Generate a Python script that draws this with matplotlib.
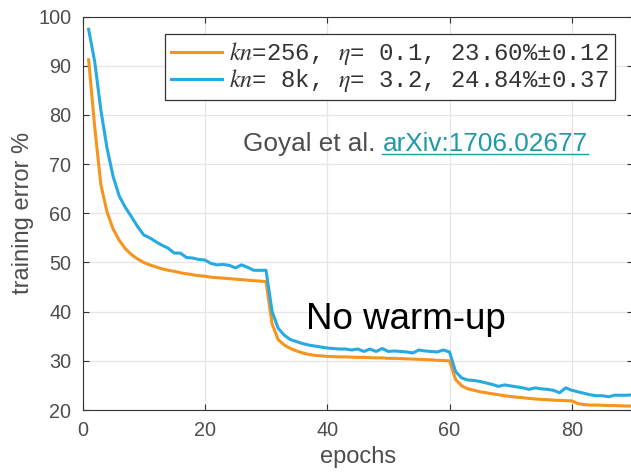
import numpy as np
import matplotlib.pyplot as plt
from matplotlib.lines import Line2D

plt.rcParams['font.family'] = ['Liberation Sans', 'DejaVu Sans']
plt.rcParams['mathtext.fontset'] = 'stix'

# training error per epoch, read per curve
epochs = np.arange(1, 91)
err_256 = [91.2, 77.5, 65.8, 60.3, 56.8, 54.5, 52.8, 51.6, 50.7, 50.0,
           49.5, 49.1, 48.7, 48.4, 48.2, 47.9, 47.7, 47.5, 47.3, 47.2,
           47.0, 46.9, 46.8, 46.7, 46.6, 46.5, 46.4, 46.3, 46.2, 46.1,
           37.5, 34.3, 33.2, 32.5, 32.0, 31.6, 31.3, 31.1, 31.0, 30.9,
           30.85, 30.8, 30.8, 30.75, 30.7, 30.7, 30.65, 30.6, 30.6, 30.5,
           30.5, 30.45, 30.4, 30.35, 30.3, 30.25, 30.2, 30.1, 30.05, 30.0,
           26.2, 24.9, 24.3, 24.0, 23.7, 23.5, 23.3, 23.1, 22.9, 22.75,
           22.6, 22.5, 22.35, 22.25, 22.15, 22.1, 22.0, 21.95, 21.9, 21.85,
           21.3, 21.1, 21.0, 21.0, 20.95, 20.9, 20.9, 20.85, 20.8, 20.8]
err_8k = [97.4, 90.8, 81.0, 73.3, 67.5, 63.5, 61.2, 59.3, 57.3, 55.6,
          55.0, 54.2, 53.5, 52.9, 51.9, 51.9, 51.0, 50.9, 50.6, 50.5,
          49.8, 49.5, 49.6, 49.4, 48.9, 49.5, 49.0, 48.4, 48.4, 48.4,
          40.0, 36.6, 35.2, 34.3, 33.9, 33.5, 33.2, 33.0, 32.8, 32.6,
          32.5, 32.4, 32.4, 32.2, 32.4, 31.9, 32.4, 31.9, 32.5, 31.9,
          32.0, 31.9, 31.8, 31.6, 32.2, 32.0, 31.9, 31.8, 32.2, 31.8,
          27.8, 26.5, 26.1, 26.0, 25.8, 25.5, 25.2, 24.8, 25.1, 24.9,
          24.7, 24.5, 24.2, 24.5, 24.3, 24.2, 24.0, 23.5, 24.5, 24.0,
          23.7, 23.4, 23.1, 22.9, 22.9, 22.7, 23.0, 23.0, 23.0, 23.1]

labels = [r'$kn$=256, $\eta$= 0.1, 23.60%±0.12',
          r'$kn$= 8k, $\eta$= 3.2, 24.84%±0.37']
colors = ['#f7941e', '#27aae1']

fig = plt.figure(figsize=(6.31, 4.76), dpi=100)
ax = fig.add_axes([82.5 / 631, 66 / 476, 550.5 / 631, 393.5 / 476])

ax.plot(epochs, err_256, color=colors[0], lw=2.2, label=labels[0])
ax.plot(epochs, err_8k, color=colors[1], lw=2.2, label=labels[1])

ax.set_xlim(0, 90)
ax.set_ylim(20, 100)
ax.set_xticks([0, 20, 40, 60, 80])
ax.set_yticks(np.arange(20, 101, 10))
ax.grid(True, color='#e6e6e6', lw=0.9)
ax.set_axisbelow(True)
ax.tick_params(direction='in', length=4, width=0.8, top=True, right=True,
               labelsize=14.3, labelcolor='#4d4d4d', color='#333333', pad=8)
for s in ax.spines.values():
    s.set_color('#333333')
    s.set_linewidth(0.8)

ax.set_xlabel('epochs', fontsize=17, color='#4d4d4d', labelpad=4)
ax.set_ylabel('training error %', fontsize=17, color='#4d4d4d', labelpad=3)

leg = ax.legend(loc='upper right', bbox_to_anchor=(0.967, 0.955),
                prop={'family': 'Liberation Mono', 'size': 17.3},
                handlelength=2.1, handletextpad=0.3, borderpad=0.25,
                labelspacing=0.0, fancybox=False, framealpha=1,
                edgecolor='#333333', borderaxespad=0)
leg.get_frame().set_linewidth(0.9)
for t in leg.get_texts():
    t.set_color('#333333')

ax.text(36.5, 36.5, 'No warm-up', fontsize=26.5, color='black', va='baseline')

# citation with an underlined link part
cite = ax.text(26.2, 72.7, 'Goyal et al. ', fontsize=18.8, color='#4d4d4d',
               va='baseline')
fig.canvas.draw()
r = fig.canvas.get_renderer()
bb = cite.get_window_extent(r)
x_link = ax.transData.inverted().transform((bb.x1, 0))[0]
link = ax.text(x_link, 72.7, 'arXiv:1706.02677', fontsize=18.8,
               color='#1f9aa8', va='baseline')
fig.canvas.draw()
lb = link.get_window_extent(r)
y_base = ax.transData.transform((0, 72.7))[1] - 2.8
fig.add_artist(Line2D([lb.x0 / 631, lb.x1 / 631], [y_base / 476, y_base / 476],
                      color='#1f9aa8', lw=1.0))

fig.savefig('out.png', dpi=100)
